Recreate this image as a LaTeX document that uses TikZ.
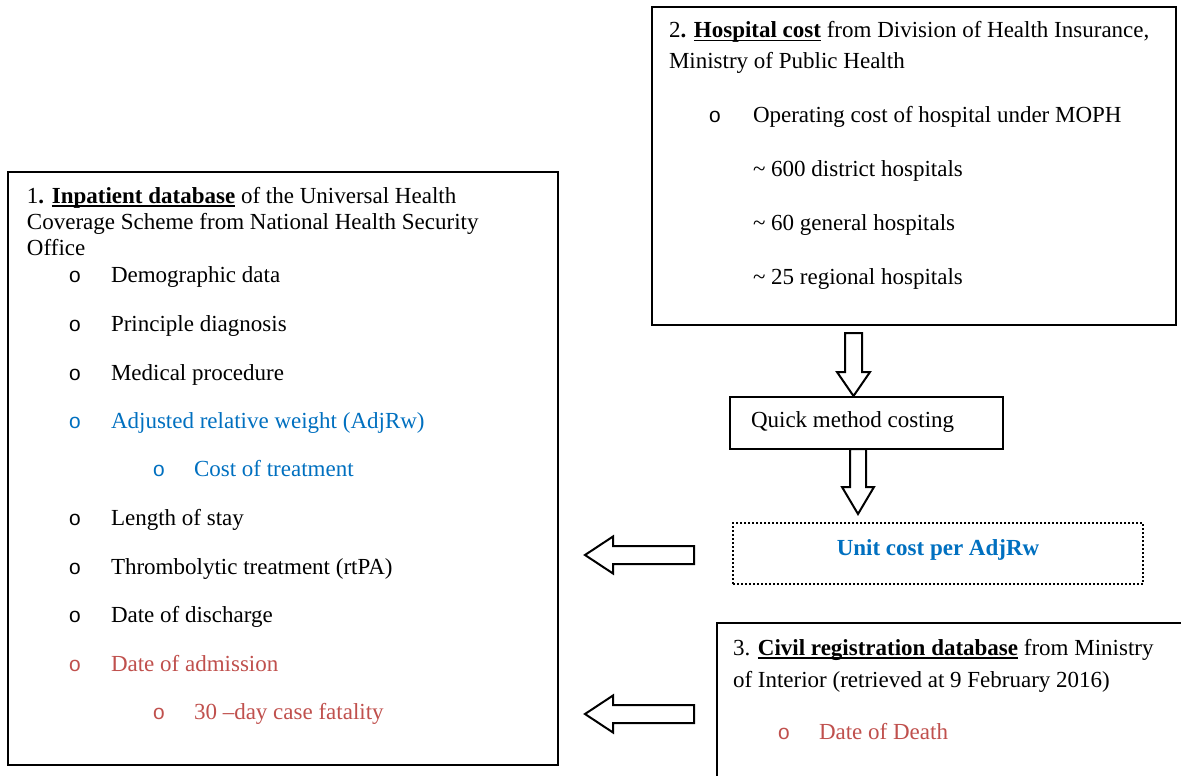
\documentclass[tikz,border=0pt]{standalone}
\usepackage{fontspec}
\setmainfont{Liberation Serif}
\newfontfamily\bulletfont{Liberation Mono}
\usetikzlibrary{calc}
\definecolor{wordblue}{HTML}{0070C0}
\definecolor{wordred}{HTML}{C0504D}
\newsavebox{\myulbox}
\newcommand{\myul}[1]{\sbox{\myulbox}{#1}\rlap{\rule[-3.5pt]{\wd\myulbox}{1.8pt}}\usebox{\myulbox}}
\tikzset{
  box/.style={draw, line width=2pt, inner sep=0pt, outer sep=0pt, anchor=north west},
  dotbox/.style={box, dash pattern=on 2pt off 2pt},
  txt/.style={anchor=base west, inner sep=0pt, outer sep=0pt, font=\fontsize{23}{27}\selectfont},
  bul/.style={anchor=base, inner sep=0pt, outer sep=0pt, font=\bulletfont\fontsize{21}{25}\selectfont},
  blk/.style={draw, line width=2pt, fill=white, line join=miter},
}
\newcommand{\blkarrowdown}[5]{%
  \draw[blk] let \p1=(#1), \p2=(#2) in
    (\x1-#3,\y1) -- (\x1+#3,\y1) -- (\x1+#3,\y2+#5) -- (\x1+#4,\y2+#5) -- (\x2,\y2)
    -- (\x1-#4,\y2+#5) -- (\x1-#3,\y2+#5) -- cycle;}
\newcommand{\blkarrowleft}[5]{%
  \draw[blk] let \p1=(#1), \p2=(#2) in
    (\x1,\y1-#3) -- (\x1,\y1+#3) -- (\x2+#5,\y1+#3) -- (\x2+#5,\y1+#4) -- (\x2,\y2)
    -- (\x2+#5,\y1-#4) -- (\x2+#5,\y1-#3) -- cycle;}
\begin{document}
\begin{tikzpicture}[x=1pt,y=-1pt]
\useasboundingbox (0,0) rectangle (1181,776);
\clip (0,0) rectangle (1181,776);
\fill[white] (0,0) rectangle (1181,776);

% boxes
\node[box, minimum width=550pt, minimum height=593pt] (db1) at (8,172) {};
\node[box, minimum width=524pt, minimum height=318pt] (db2) at (652,7) {};
\node[box, minimum width=273pt, minimum height=52pt] (quick) at (730,397) {};
\node[dotbox, minimum width=410pt, minimum height=61pt] (unit) at (733,523) {};
\node[box, minimum width=500pt, minimum height=200pt] (db3) at (717,623) {};

% box 2 text
\node[txt] (t2a) at (669,38) {2\textbf{. \myul{Hospital cost}} from Division of Health Insurance,};
\node[txt] (t2b) at (669,69) {Ministry of Public Health};
\node[bul] (o2a) at (715,122) {o};
\node[txt] (t2c) at (753,122) {Operating cost of hospital under MOPH};
\node[txt] (t2d) at (753,176) {\textasciitilde{} 600 district hospitals};
\node[txt] (t2e) at (753,230) {\textasciitilde{} 60 general hospitals};
\node[txt] (t2f) at (753,284) {\textasciitilde{} 25 regional hospitals};

% quick method
\node[txt] (tq) at (751,427) {Quick method costing};

% unit cost
\node[txt, anchor=base, text=wordblue] (tu) at (938,555) {\textbf{Unit cost per AdjRw}};

% box 3 text
\node[txt] (t3a) at (733,655) {3. \textbf{\myul{Civil registration database}} from Ministry};
\node[txt] (t3b) at (733,687) {of Interior (retrieved at 9 February 2016)};
\node[bul, text=wordred] (o3a) at (784,739) {o};
\node[txt, text=wordred] (t3c) at (819,739) {Date of Death};

% box 1 text
\node[txt] (t1a) at (27,203) {1\textbf{. \myul{Inpatient database}} of the Universal Health};
\node[txt] (t1b) at (27,229) {Coverage Scheme from National Health Security};
\node[txt] (t1c) at (27,255) {Office};
\node[bul] (o1a) at (75,282) {o};
\node[txt] (t1d) at (111,282) {Demographic data};
\node[bul] (o1b) at (75,331) {o};
\node[txt] (t1e) at (111,331) {Principle diagnosis};
\node[bul] (o1c) at (75,380) {o};
\node[txt] (t1f) at (111,380) {Medical procedure};
\node[bul, text=wordblue] (o1d) at (75,428) {o};
\node[txt, text=wordblue] (t1g) at (111,428) {Adjusted relative weight (AdjRw)};
\node[bul, text=wordblue] (o1e) at (159,476) {o};
\node[txt, text=wordblue] (t1h) at (194,476) {Cost of treatment};
\node[bul] (o1f) at (75,525) {o};
\node[txt] (t1i) at (111,525) {Length of stay};
\node[bul] (o1g) at (75,574) {o};
\node[txt] (t1j) at (111,574) {Thrombolytic treatment (rtPA)};
\node[bul] (o1h) at (75,622) {o};
\node[txt] (t1k) at (111,622) {Date of discharge};
\node[bul, text=wordred] (o1i) at (75,671) {o};
\node[txt, text=wordred] (t1l) at (111,671) {Date of admission};
\node[bul, text=wordred] (o1j) at (159,719) {o};
\node[txt, text=wordred] (t1m) at (194,719) {30 –day case fatality};

% block arrows
\coordinate (a1s) at (853.5,333);
\coordinate (a1e) at (853.5,396);
\coordinate (a2s) at (858,449);
\coordinate (a2e) at (858,514);
\coordinate (a3s) at (694,555);
\coordinate (a3e) at (585,555);
\coordinate (a4s) at (694,714);
\coordinate (a4e) at (585,714);
\blkarrowdown{a1s}{a1e}{8.5pt}{16.5pt}{24pt}
\blkarrowdown{a2s}{a2e}{8pt}{16pt}{27pt}
\blkarrowleft{a3s}{a3e}{9pt}{18.5pt}{28pt}
\blkarrowleft{a4s}{a4e}{9pt}{18.5pt}{28pt}
\end{tikzpicture}
\end{document}
